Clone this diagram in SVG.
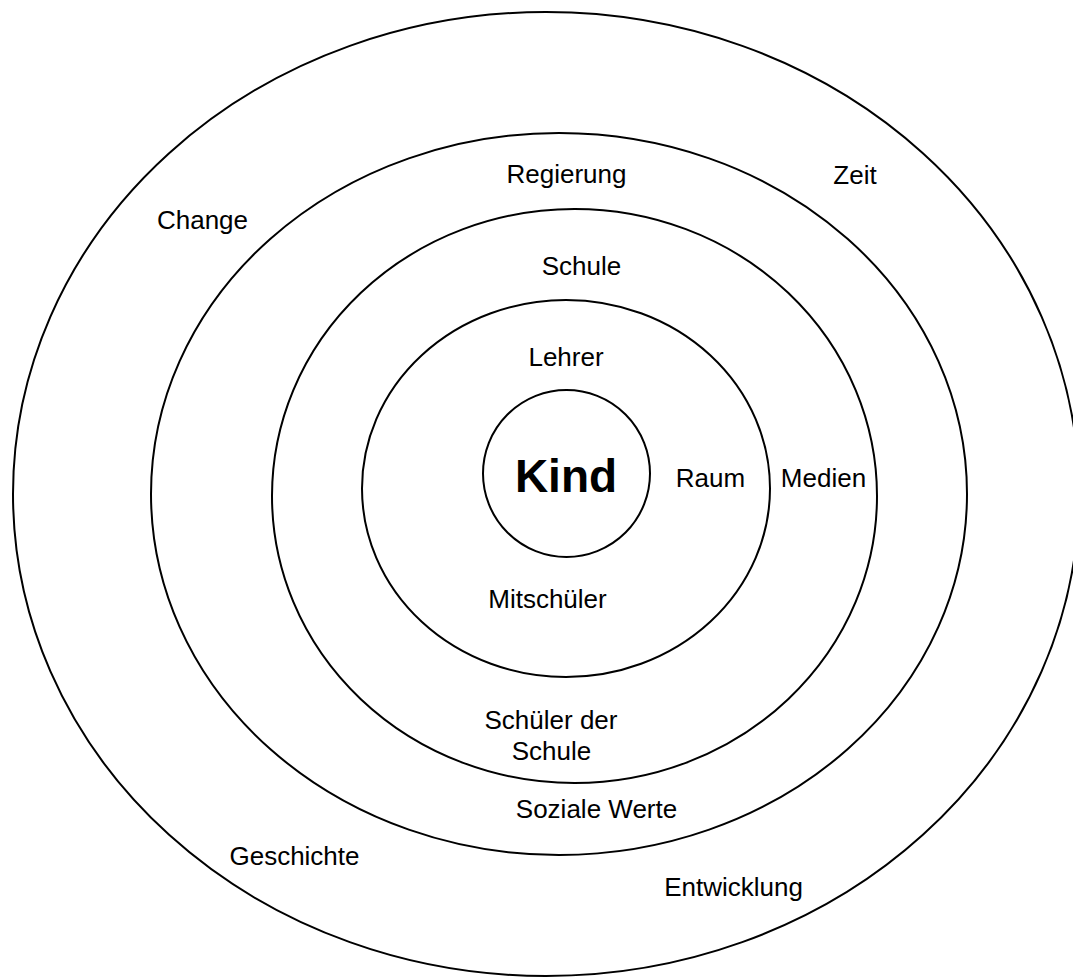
<svg xmlns="http://www.w3.org/2000/svg" width="1073" height="979" viewBox="0 0 1073 979">
<style>
.ring{fill:none;stroke:#000;stroke-width:2}
.lbl{font-family:"Liberation Sans",Arial,sans-serif;font-size:26px;fill:#000;text-anchor:middle}
.big{font-family:"Liberation Sans",Arial,sans-serif;font-size:46px;font-weight:bold;fill:#000;text-anchor:middle}
</style>
<rect width="1073" height="979" fill="#fff"/>
<g id="ring-outer"><ellipse class="ring" cx="546" cy="494" rx="533" ry="482"/></g>
<g id="ring-2"><ellipse class="ring" cx="559" cy="494" rx="408" ry="361"/></g>
<g id="ring-3"><ellipse class="ring" cx="574.5" cy="496" rx="302.5" ry="287"/></g>
<g id="ring-4"><ellipse class="ring" cx="566" cy="488.5" rx="204" ry="188.5"/></g>
<g id="kind"><circle class="ring" cx="566.5" cy="473.5" r="83.5"/><text class="big" x="566" y="492">Kind</text></g>
<g id="labels">
<text class="lbl" x="566.5" y="183">Regierung</text>
<text class="lbl" x="855" y="184">Zeit</text>
<text class="lbl" x="202.5" y="229">Change</text>
<text class="lbl" x="581.5" y="275">Schule</text>
<text class="lbl" x="566" y="366">Lehrer</text>
<text class="lbl" x="710.5" y="487">Raum</text>
<text class="lbl" x="823.5" y="487">Medien</text>
<text class="lbl" x="547.5" y="608">Mitschüler</text>
<text class="lbl" x="551" y="729">Schüler der</text>
<text class="lbl" x="551.5" y="760">Schule</text>
<text class="lbl" x="596.5" y="818">Soziale Werte</text>
<text class="lbl" x="294.5" y="865">Geschichte</text>
<text class="lbl" x="733.5" y="896">Entwicklung</text>
</g>
<g id="connectors"/>
</svg>
